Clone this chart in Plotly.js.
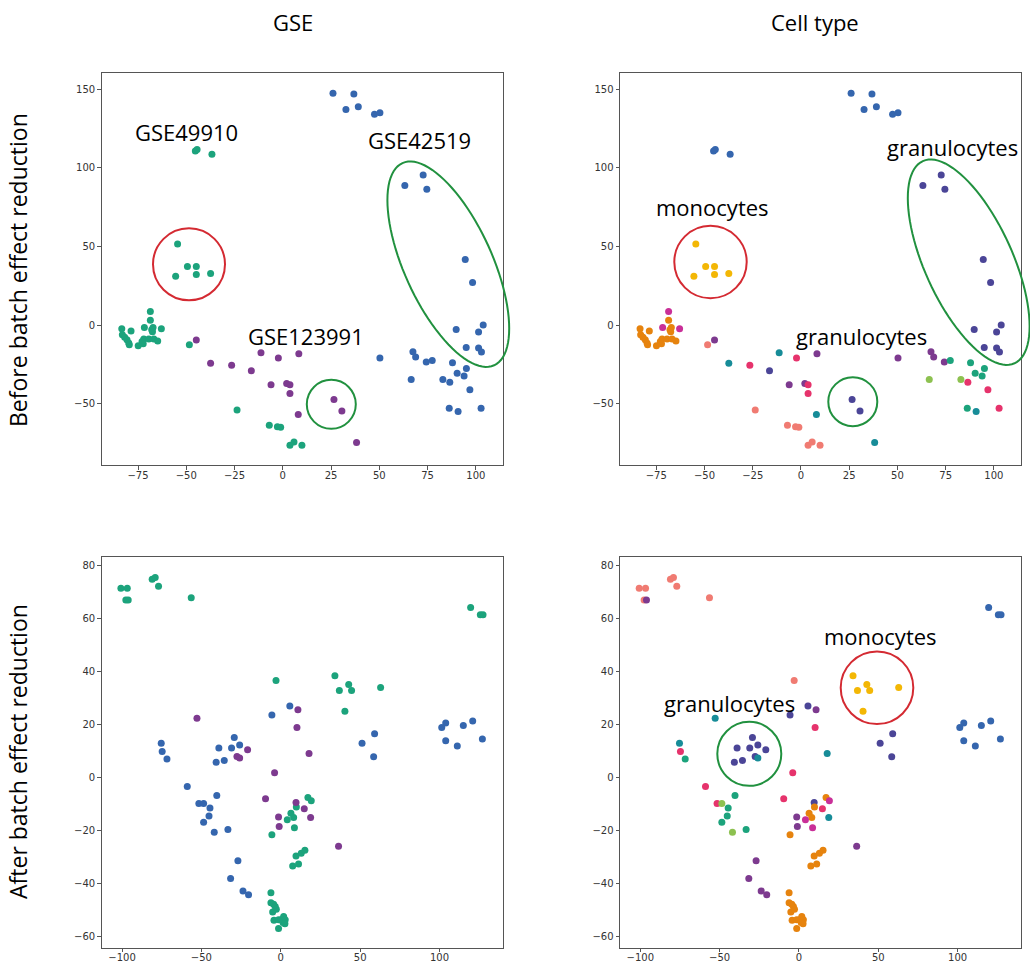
<!DOCTYPE html>
<html>
<head>
<meta charset="utf-8">
<script src="https://cdn.plot.ly/plotly-3.0.1.min.js"></script>
<style>html,body{margin:0;padding:0;background:#fff;}#chart{width:1030px;height:963px;}</style>
</head>
<body>
<div id="chart"></div>
<script>
// ---------- DATA: before batch effect reduction ----------
const beforeX = [-45.3,-44.4,-36.7,-54.5,-49.4,-44.8,-44.8,-37.4,-55.5,
  -68.6,-68.6,-71.7,-67.2,-62.9,-83.4,-78.6,-67.5,-83.1,-81.9,-80.7,-79.8,-79.5,-72.0,-72.9,-69.4,-66.8,-64.8,-74.9,-72.3,-67.9,
  -48.4,-23.7,-7.0,-2.8,-1.1,3.7,5.8,9.9,
  -44.8,-37.4,-26.5,-16.3,-11.3,-2.3,8.3,-6.1,2.0,3.7,3.7,8.0,26.5,30.6,38.2,
  26.0,36.8,32.7,39.1,47.5,50.3,72.7,63.2,74.6,94.5,98.3,89.8,103.8,101.4,95.0,101.4,102.9,
  50.3,67.4,68.8,74.3,77.4,87.9,90.3,93.9,95.1,66.5,82.9,86.5,96.9,86.2,90.8,102.7];
const beforeY = [110.7,111.7,108.6,51.6,37.2,37.2,32.2,32.8,31.1,
  8.7,3.0,-1.5,-1.5,-2.3,-2.3,-3.8,-4.2,-6.1,-7.8,-9.3,-11.4,-12.5,-8.9,-10.4,-8.9,-8.9,-10.2,-13.1,-11.9,-3.0,
  -12.5,-54.0,-63.7,-64.6,-65.0,-76.4,-74.4,-76.4,
  -9.5,-24.3,-25.6,-29.0,-17.6,-21.0,-18.2,-37.9,-37.2,-37.9,-43.6,-56.9,-47.4,-54.6,-74.7,
  147.5,146.9,137.1,138.8,134.0,135.0,95.4,88.7,86.3,41.7,27.1,-2.8,0.0,-4.4,-14.2,-14.6,-17.1,
  -21.0,-16.9,-20.3,-23.5,-22.6,-23.9,-30.7,-32.4,-27.7,-34.7,-34.7,-36.4,-41.1,-52.9,-55.0,-52.9];
const beforeGSE = [].concat(
  Array(38).fill('GSE49910'),
  Array(15).fill('GSE123991'),
  Array(33).fill('GSE42519'));
const beforeCell = ['type A','type A','type A','monocytes','monocytes','monocytes','monocytes','monocytes','monocytes',
  'type C','type B','type C','type B','type C','type B','type B','type B','type B','type B','type B','type B','type B','type B','type B','type B','type B','type B','type B','type B','type B',
  'type D','type D','type D','type D','type D','type D','type D','type D',
  'type E','type F','type G','granulocytes','type F','type G','type E','type E','type E','type G','type G','type F','granulocytes','granulocytes','type F',
  'type A','type A','type A','type A','type A','type A','granulocytes','granulocytes','granulocytes','granulocytes','granulocytes','granulocytes','granulocytes','granulocytes','granulocytes','granulocytes','granulocytes',
  'type E','type E','type E','type E','type H','type H','type H','type H','type H','type I','type I','type G','type G','type H','type F','type G'];

// ---------- DATA: after batch effect reduction ----------
const afterX = [-100.7,-96.7,-97.6,-96.1,-81.0,-79.1,-77.0,-56.4,-3.0,119.6,125.7,127.4,
  34.1,36.9,42.8,44.6,40.4,62.9,
  -5.6,4.1,6.4,8.1,8.6,9.8,17.1,19.2,9.6,12.9,15.2,7.5,11.2,
  -6.2,-6.2,-4.5,-3.5,-5.1,-2.8,-4.3,-1.4,0.3,1.8,2.8,1.4,2.6,-1.4,
  -75.3,-74.7,-71.7,-58.9,-51.6,-48.6,-44.6,-45.2,-48.6,-41.9,-33.3,-40.3,
  -40.7,-35.6,-39.0,-31.0,-29.3,-25.9,-27.0,-31.6,-23.8,-20.3,-5.6,5.7,51.2,59.1,58.5,
  101.4,103.9,103.9,111.2,115.0,120.9,127.0,
  -52.8,-27.6,-25.9,-20.9,-3.9,-9.6,-1.4,-1.0,10.8,10.2,9.6,17.8,14.8,18.8,36.4];
const afterY = [71.4,71.4,67.0,67.0,74.8,75.5,72.2,67.8,36.6,64.2,61.4,61.4,
  38.4,32.8,35.1,32.8,25.0,34.0,
  -21.6,-15.9,-13.5,-15.1,-18.9,-11.1,-7.5,-8.8,-29.6,-28.6,-27.4,-33.4,-32.6,
  -43.5,-47.2,-47.8,-48.7,-50.7,-49.7,-53.8,-53.7,-53.7,-52.4,-53.7,-54.7,-55.2,-57.0,
  12.9,9.8,7.0,-3.4,-9.8,-9.8,-11.5,-14.5,-16.9,-20.6,-19.6,-6.8,
  5.8,6.4,11.1,11.1,15.1,12.3,-31.4,-38.1,-42.8,-44.2,23.6,27.0,12.9,16.5,7.8,
  18.9,20.6,13.9,11.9,19.6,21.3,14.5,
  22.4,7.9,7.4,10.5,1.8,-8.0,-14.9,-18.5,25.6,18.9,-9.4,9.1,-11.8,-15.1,-25.9];
const afterGSE = [].concat(
  Array(45).fill('GSE49910'),
  Array(34).fill('GSE42519'),
  Array(15).fill('GSE123991'));
const afterCell = ['type D','type D','type D','type E','type D','type D','type D','type D','type D','type A','type A','type A',
  'monocytes','monocytes','monocytes','monocytes','monocytes','monocytes',
  'type B','type C','type B','type B','type C','type B','type B','type C','type B','type B','type B','type B','type B',
  'type B','type B','type B','type B','type B','type B','type B','type B','type B','type B','type B','type B','type B','type B',
  'type F','type G','type H','type G','type G','type I','type H','type H','type H','type I','type H','type H',
  'granulocytes','granulocytes','granulocytes','granulocytes','granulocytes','granulocytes','type E','type E','type E','type E','granulocytes','granulocytes','granulocytes','granulocytes','granulocytes',
  'type A','type A','type A','type A','type A','type A','type A',
  'type F','granulocytes','type F','granulocytes','type G','type G','type E','type E','type E','type G','granulocytes','type F','type G','type F','type E'];

const topXTicks = [-75,-50,-25,0,25,50,75,100];
const topYTicks = [-50,0,50,100,150];
const botXTicks = [-100,-50,0,50,100];
const botYTicks = [-60,-40,-20,0,20,40,60,80];

// ---------- STYLES ----------
const gseColors = {GSE49910:'#1ca37c', GSE42519:'#3566ae', GSE123991:'#7d3a8f'};
const cellColors = {
  'type A':'#3566ae', 'monocytes':'#f3b705', 'granulocytes':'#4b4597', 'type B':'#e6830e',
  'type C':'#c92f98', 'type D':'#f07b72', 'type E':'#7d3a8f', 'type F':'#178c98',
  'type G':'#e6336c', 'type H':'#1ca37c', 'type I':'#8dc150'
};

const W = 1030, H = 963;
const px = v => v / W;
const py = v => 1 - v / H;

function groupTraces(xs, ys, keys, colors, xa, ya) {
  const order = Object.keys(colors);
  const out = [];
  order.forEach(k => {
    const gx = [], gy = [];
    keys.forEach((kk, i) => { if (kk === k) { gx.push(xs[i]); gy.push(ys[i]); } });
    if (gx.length) out.push({
      type:'scatter', mode:'markers', x:gx, y:gy, name:k, xaxis:xa, yaxis:ya,
      marker:{color:colors[k], size:7, line:{width:0}}, showlegend:false, hoverinfo:'x+y+name'
    });
  });
  return out;
}

const data = [].concat(
  groupTraces(beforeX, beforeY, beforeGSE, gseColors, 'x', 'y'),
  groupTraces(beforeX, beforeY, beforeCell, cellColors, 'x2', 'y2'),
  groupTraces(afterX, afterY, afterGSE, gseColors, 'x3', 'y3'),
  groupTraces(afterX, afterY, afterCell, cellColors, 'x4', 'y4')
);

function ax(domain, range, tickvals, anchor, isX) {
  return {
    domain, range, tickmode:'array', tickvals, anchor,
    showgrid:false, zeroline:false, showline:true, mirror:true,
    linecolor:'#555', linewidth:1, ticks:'outside', ticklen:3.5, tickcolor:'#555', tickwidth:1,
    ticklabelstandoff: isX ? -3 : 0,
    tickfont:{family:'DejaVu Sans', size:10, color:'#333'}, automargin:false, fixedrange:true
  };
}

const xTL = [px(101.7), px(502.7)], xTR = [px(620), px(1020.7)];
const yTop = [py(465), py(73)], yBot = [py(947.7), py(556.5)];

function circle(cx, cy, r, color) {
  return {type:'circle', xref:'paper', yref:'paper', x0:px(cx - r), x1:px(cx + r), y0:py(cy + r), y1:py(cy - r),
    line:{color, width:2}, layer:'above'};
}
function ellipse(cx, cy, a, b, deg, color) {
  const t = deg * Math.PI / 180; let d = '';
  for (let i = 0; i <= 96; i++) {
    const s = 2 * Math.PI * i / 96;
    const ex = cx + a * Math.cos(s) * Math.cos(t) - b * Math.sin(s) * Math.sin(t);
    const ey = cy + a * Math.cos(s) * Math.sin(t) + b * Math.sin(s) * Math.cos(t);
    d += (i ? 'L' : 'M') + px(ex).toFixed(5) + ',' + py(ey).toFixed(5);
  }
  return {type:'path', xref:'paper', yref:'paper', path:d + 'Z', line:{color, width:2}, layer:'above'};
}
const RED = '#d42a32', GREEN = '#21913f';

const lblFont = {family:'Open Sans, Noto Sans, sans-serif', size:22, color:'#000'};
function note(text, x, y, extra) {
  return Object.assign({text, xref:'paper', yref:'paper', x:px(x), y:py(y), xanchor:'center', yanchor:'middle',
    showarrow:false, font:lblFont}, extra || {});
}
const rowFont = {family:'Open Sans, Noto Sans, sans-serif', size:23, color:'#000'};

const layout = {
  width:W, height:H, margin:{l:0, r:0, t:0, b:0}, paper_bgcolor:'#fff', plot_bgcolor:'#fff',
  showlegend:false,
  xaxis: ax(xTL, [-93.8, 113.9], topXTicks, 'y', true),
  yaxis: ax(yTop, [-89, 160.3], topYTicks, 'x'),
  xaxis2: ax(xTR, [-93.8, 113.9], topXTicks, 'y2', true),
  yaxis2: ax(yTop, [-89, 160.3], topYTicks, 'x2'),
  xaxis3: ax(xTL, [-112.8, 139.8], botXTicks, 'y3', true),
  yaxis3: ax(yBot, [-64.2, 83.4], botYTicks, 'x3'),
  xaxis4: ax(xTR, [-112.8, 139.8], botXTicks, 'y4', true),
  yaxis4: ax(yBot, [-64.2, 83.4], botYTicks, 'x4'),
  shapes: [
    circle(189, 264.3, 36, RED),
    circle(331.3, 404.3, 24.5, GREEN),
    ellipse(448.3, 264.2, 111, 44, 65.6, GREEN),
    circle(710.5, 262, 36.2, RED),
    circle(852.8, 401.7, 24.5, GREEN),
    ellipse(968.7, 262.2, 111, 44, 65.6, GREEN),
    circle(749.3, 753.8, 32, GREEN),
    circle(877, 687.8, 36.3, RED)
  ],
  annotations: [
    note('GSE', 293, 22),
    note('Cell type', 815, 22),
    note('Before batch effect reduction', 18, 270, {textangle:-90, font:rowFont}),
    note('After batch effect reduction', 18, 752, {textangle:-90, font:rowFont}),
    note('GSE49910', 186, 132),
    note('GSE42519', 419.5, 140),
    note('GSE123991', 306, 336),
    note('monocytes', 712.5, 207),
    note('granulocytes', 952, 147),
    note('granulocytes', 861, 336),
    note('granulocytes', 729.5, 703),
    note('monocytes', 880, 636)
  ]
};

Plotly.newPlot('chart', data, layout, {staticPlot:true, displayModeBar:false});
</script>
</body>
</html>
